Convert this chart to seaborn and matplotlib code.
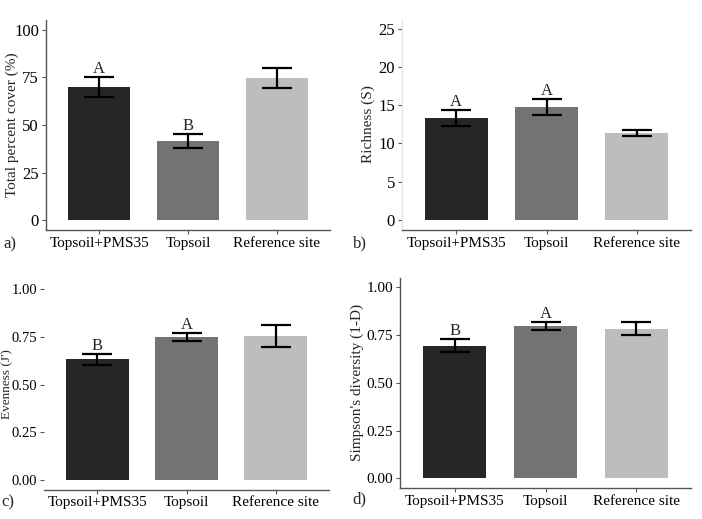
import matplotlib
matplotlib.use("Agg")
import matplotlib.pyplot as plt
import seaborn as sns
import pandas as pd

# Data
groups = ["Topsoil+PMS35", "Topsoil", "Reference site"]
colors = ["#262626", "#737373", "#bdbdbd"]

cover_mean = [70.0, 41.5, 74.8]
cover_err = [5.2, 3.6, 5.2]
cover_letters = ["A", "B", ""]

rich_mean = [13.3, 14.8, 11.4]
rich_err = [1.05, 1.05, 0.4]
rich_letters = ["A", "A", ""]

even_mean = [0.632, 0.748, 0.752]
even_err = [0.028, 0.02, 0.058]
even_letters = ["B", "A", ""]

simp_mean = [0.694, 0.796, 0.782]
simp_err = [0.033, 0.02, 0.034]
simp_letters = ["B", "A", ""]

FONT = "Liberation Serif"
FS = 11
W, H = 702, 519


def px_axes(fig, left, top, right, bottom):
    return fig.add_axes([left / W, 1 - bottom / H, (right - left) / W, (bottom - top) / H])


def draw_panel(ax, means, errs, letters, ylabel, yticks, ylim, fmt, left_spine, label_x,
               ytick_fs, ylabel_fs=FS):
    df = pd.DataFrame({"group": groups, "value": means})
    sns.barplot(data=df, x="group", y="value", hue="group", palette=colors,
                width=0.7, errorbar=None, legend=False, ax=ax, linewidth=0)
    ax.errorbar(range(len(groups)), means, yerr=errs, fmt="none", ecolor="black",
                elinewidth=1.6, capsize=10.5, capthick=1.6)
    for i, (m, e, t) in enumerate(zip(means, errs, letters)):
        if t:
            ax.text(i, m + e, t, ha="center", va="bottom", fontsize=FS + 1, family=FONT)
    ax.set_xlim(-0.6, 2.6)
    ax.set_ylim(*ylim)
    ax.set_yticks(yticks)
    ax.set_yticklabels([fmt.format(v) for v in yticks], family=FONT, fontsize=ytick_fs)
    ax.set_xticks(range(len(groups)))
    ax.set_xticklabels(groups, family=FONT, fontsize=FS)
    ax.set_xlabel("")
    ax.set_ylabel(ylabel, family=FONT, fontsize=ylabel_fs, va="center")
    ax.yaxis.set_label_coords(label_x, 0.5)
    ax.tick_params(bottom=True, left=True, length=3, width=0.8, color="#555555",
                   pad=2, labelcolor="black")
    for s in ["top", "right"]:
        ax.spines[s].set_visible(False)
    ax.spines["bottom"].set_color("#555555")
    ax.spines["bottom"].set_linewidth(1.0)
    if left_spine is None:
        ax.spines["left"].set_visible(False)
    else:
        ax.spines["left"].set_color(left_spine)
        ax.spines["left"].set_linewidth(1.0)
    ax.set_facecolor("white")


def main():
    sns.set_style("white")
    fig = plt.figure(figsize=(W / 100, H / 100), dpi=100)

    ax_a = px_axes(fig, 46, 20, 330, 230)
    draw_panel(ax_a, cover_mean, cover_err, cover_letters, "Total percent cover (%)",
               [0, 25, 50, 75, 100], (-5, 105), "{:g}", "#555555", (12.5 - 46) / 284, FS + 1)

    ax_b = px_axes(fig, 402, 19, 691, 229.6)
    draw_panel(ax_b, rich_mean, rich_err, rich_letters, "Richness (S)",
               [0, 5, 10, 15, 20, 25], (-1.25, 26.25), "{:g}", "#e6e6e6", (368.5 - 402) / 289, FS + 1)

    ax_c = px_axes(fig, 44, 279.5, 329, 489.5)
    draw_panel(ax_c, even_mean, even_err, even_letters, "Evenness (J')",
               [0, 0.25, 0.5, 0.75, 1.0], (-0.05, 1.05), "{:.2f}", None, (7 - 44) / 285,
               10.5, 9.5)

    ax_d = px_axes(fig, 400, 277.8, 691, 487.9)
    draw_panel(ax_d, simp_mean, simp_err, simp_letters, "Simpson's diversity (1-D)",
               [0, 0.25, 0.5, 0.75, 1.0], (-0.05, 1.05), "{:.2f}", "#555555", (357 - 400) / 291, FS)

    for t, x, y in [("a)", 3, 244), ("b)", 353, 243), ("c)", 1, 502), ("d)", 352, 499)]:
        fig.text(x / W, 1 - y / H, t, ha="left", va="center", family=FONT, fontsize=FS + 1)

    fig.savefig("out.png", dpi=100, facecolor="white")


if __name__ == "__main__":
    main()
